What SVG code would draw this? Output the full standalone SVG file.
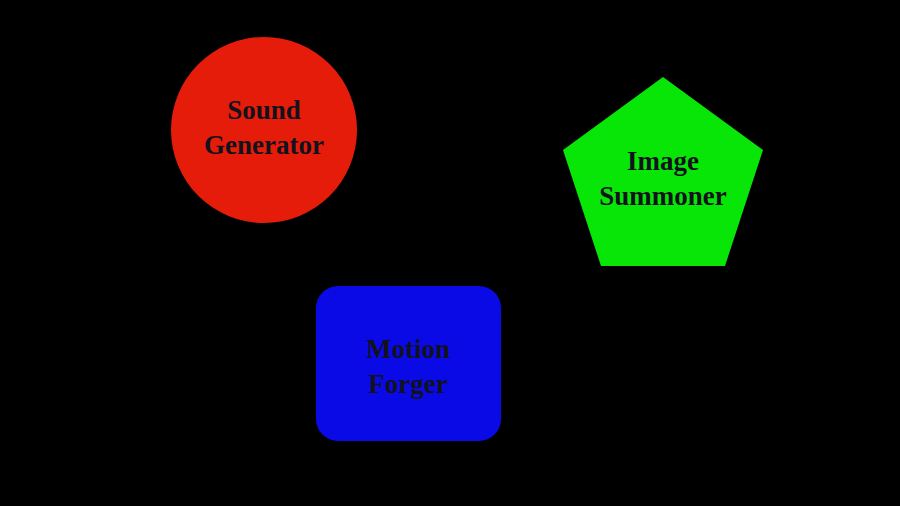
<svg xmlns="http://www.w3.org/2000/svg" width="900" height="506" viewBox="0 0 900 506">
<style>
.lbl{font-family:"Liberation Serif","DejaVu Serif",serif;font-weight:bold;font-size:27px;fill:#12121c;text-anchor:middle}
</style>
<rect width="900" height="506" fill="#000"/>
<g id="connectors"></g>
<g id="sound-generator">
<circle cx="264" cy="130" r="93" fill="#e61c0a"/>
<text class="lbl" x="264" y="119">Sound</text>
<text class="lbl" x="264" y="154">Generator</text>
</g>
<g id="image-summoner">
<polygon points="663,77 763,150 725,266 601,266 563,150" fill="#08e608"/>
<text class="lbl" x="663" y="170">Image</text>
<text class="lbl" x="663" y="205">Summoner</text>
</g>
<g id="motion-forger">
<rect x="316" y="286" width="185" height="155" rx="22" fill="#0a0ae6"/>
<text class="lbl" x="408" y="358">Motion</text>
<text class="lbl" x="408" y="393">Forger</text>
</g>
</svg>
